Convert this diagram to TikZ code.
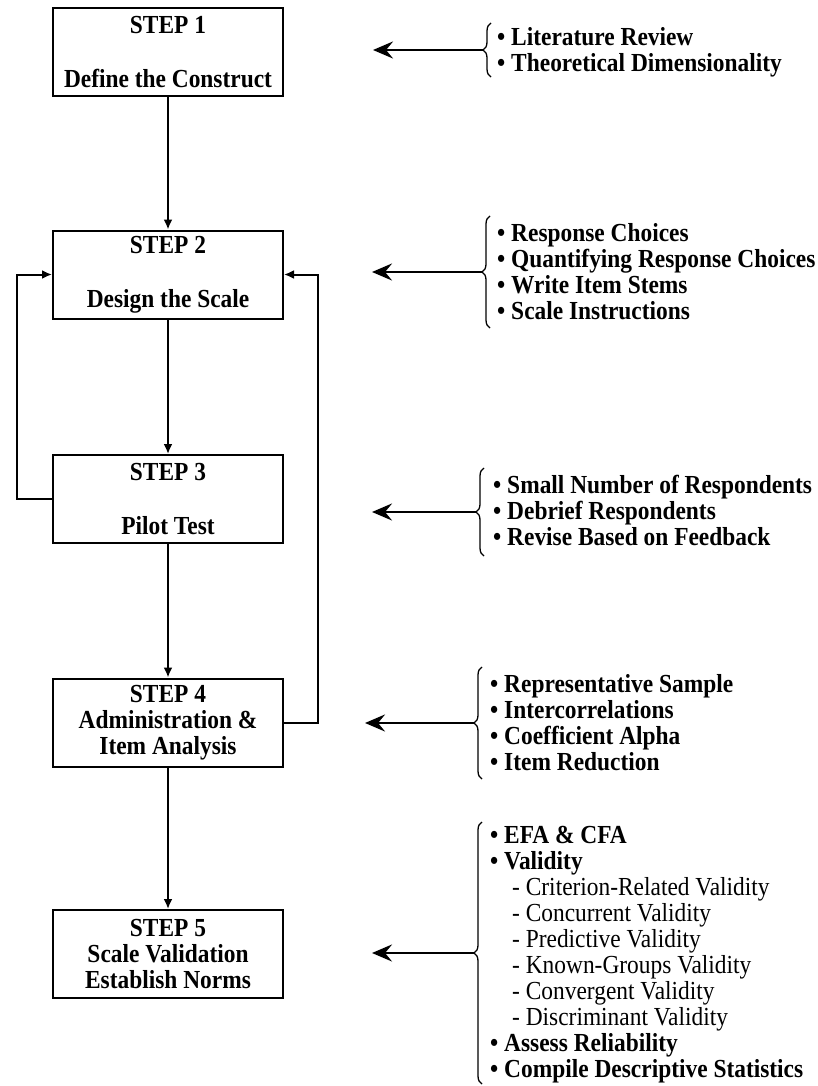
\documentclass[tikz,border=0pt]{standalone}
\usepackage{fontspec}
\setmainfont{Liberation Serif}[FakeStretch=0.9]
\usetikzlibrary{arrows.meta,decorations.pathreplacing,calc}

\begin{document}
\begin{tikzpicture}[x=1pt,y=-1pt,
  stepbox/.style={draw, line width=2pt, minimum width=230pt, minimum height=88pt,
    inner sep=0pt, align=center, font=\bfseries\fontsize{26}{26}\selectfont},
  flow/.style={line width=2pt, -{Latex[length=10pt,width=9pt]}},
  feed/.style={line width=2.6pt, -{Stealth[length=20pt,width=17pt,inset=7pt]}},
  curly/.style={line width=1.3pt, decorate, decoration={brace, amplitude=8pt}},
  items/.style={anchor=west, align=left, inner sep=0pt,
    font=\bfseries\fontsize{26}{26}\selectfont}
]
\useasboundingbox (0,0) rectangle (817,1086);

% the five steps
\node[stepbox] (s1) at (168,52.5)  {STEP 1\\[28pt]Define the Construct};
\node[stepbox] (s2) at (168,274.5) {STEP 2\\[28pt]Design the Scale};
\node[stepbox] (s3) at (168,499)   {STEP 3\\[28pt]Pilot Test};
\node[stepbox] (s4) at (168,722.5) {STEP 4\\Administration \&\\Item Analysis};
\node[stepbox] (s5) at (168,954)   {STEP 5\\Scale Validation\\Establish Norms};

% main flow
\draw[flow] (s1) -- (s2);
\draw[flow] (s2) -- (s3);
\draw[flow] (s3) -- (s4);
\draw[flow] (s4) -- (s5);

% feedback loops back to the design step
\draw[flow] (s3.west) -- ++(-35,0) |- (s2.west);
\draw[flow] (s4.east) -- ++(34,0) |- (s2.east);

% activity lists
\node[items] (l1) at (497,52) {• Literature Review\\• Theoretical Dimensionality};
\node[items] (l2) at (497,272) {• Response Choices\\• Quantifying Response Choices\\• Write Item Stems\\• Scale Instructions};
\node[items] (l3) at (493,510) {• Small Number of Respondents\\• Debrief Respondents\\• Revise Based on Feedback};
\node[items] (l4) at (490,723) {• Representative Sample\\• Intercorrelations\\• Coefficient Alpha\\• Item Reduction};
\node[items] (l5) at (490,955) {• EFA \& CFA\\• Validity\\
  {\mdseries\hspace*{22pt}- Criterion-Related Validity}\\
  {\mdseries\hspace*{22pt}- Concurrent Validity}\\
  {\mdseries\hspace*{22pt}- Predictive Validity}\\
  {\mdseries\hspace*{22pt}- Known-Groups Validity}\\
  {\mdseries\hspace*{22pt}- Convergent Validity}\\
  {\mdseries\hspace*{22pt}- Discriminant Validity}\\
  • Assess Reliability\\• Compile Descriptive Statistics};

% braces
\coordinate (b1t) at (491,23);   \coordinate (b1b) at (491,77);
\coordinate (b2t) at (490,216);  \coordinate (b2b) at (490,328);
\coordinate (b3t) at (484,468);  \coordinate (b3b) at (484,556);
\coordinate (b4t) at (482,667);  \coordinate (b4b) at (482,779);
\coordinate (b5t) at (482,822);  \coordinate (b5b) at (482,1084);
\draw[curly] (b1b) -- (b1t);
\draw[curly] (b2b) -- (b2t);
\draw[curly] (b3b) -- (b3t);
\draw[curly] (b4b) -- (b4t);
\draw[curly] (b5b) -- (b5t);

% arrows from the braces
\coordinate (p1) at (483,50);   \coordinate (q1) at (373,50);
\coordinate (p2) at (482,272);  \coordinate (q2) at (372,272);
\coordinate (p3) at (476,512);  \coordinate (q3) at (372,512);
\coordinate (p4) at (474,723);  \coordinate (q4) at (365,723);
\coordinate (p5) at (474,953);  \coordinate (q5) at (372,953);
\draw[feed] (p1) -- (q1);
\draw[feed] (p2) -- (q2);
\draw[feed] (p3) -- (q3);
\draw[feed] (p4) -- (q4);
\draw[feed] (p5) -- (q5);
\end{tikzpicture}
\end{document}
